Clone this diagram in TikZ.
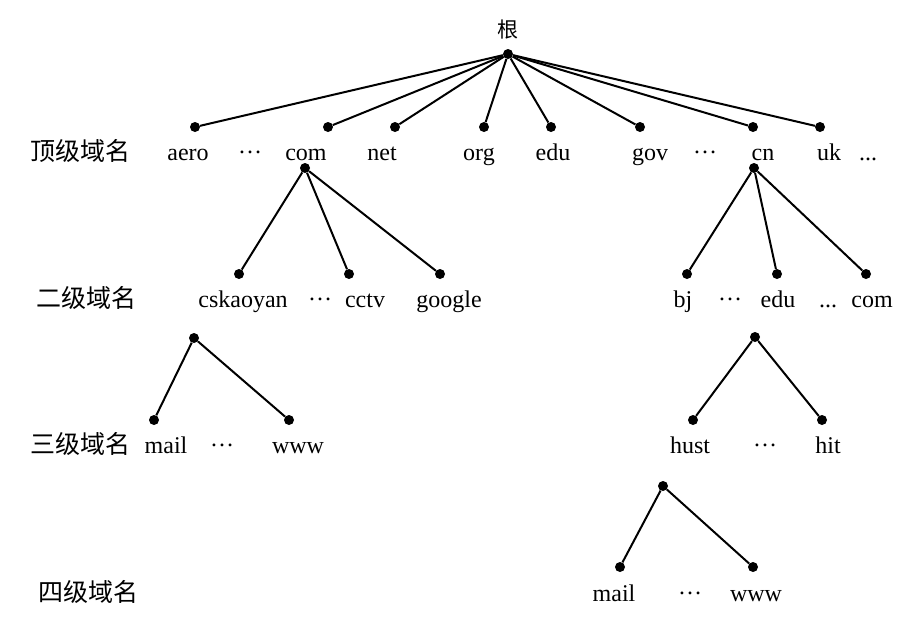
\documentclass[tikz,border=0pt]{standalone}
\usepackage{fontspec}
\setmainfont{Liberation Serif}
\newfontfamily\cjk{Noto Sans CJK SC}
\newcommand{\mydots}{\raisebox{0.27em}{…}}
\begin{document}
\begin{tikzpicture}[x=1pt,y=-1pt,
  dot/.style={circle,fill=black,inner sep=0pt,minimum size=10pt},
  lab/.style={inner sep=0pt,anchor=base,font=\fontsize{24}{28}\selectfont},
  lvl/.style={inner sep=0pt,anchor=base west,font=\cjk\fontsize{25}{28}\selectfont},
  edge/.style={line width=2pt}]
\useasboundingbox (0,0) rectangle (920,622);
% root
\node[inner sep=0pt,font=\cjk\fontsize{21}{24}\selectfont] (rootl) at (508,30) {根};
\node[dot] (root) at (508,54) {};
% top level
\node[dot] (aero) at (195,127) {};
\node[dot] (com) at (328,127) {};
\node[dot] (net) at (395,127) {};
\node[dot] (org) at (484,127) {};
\node[dot] (edu) at (551,127) {};
\node[dot] (gov) at (640,127) {};
\node[dot] (cn) at (753,127) {};
\node[dot] (uk) at (820,127) {};
\foreach \n in {aero,com,net,org,edu,gov,cn,uk} \draw[edge] (root) -- (\n);
\node[lvl] (l1) at (30,160) {顶级域名};
\node[lab] (taero) at (188,160) {aero};
\node[lab] (td1) at (250,160) {\mydots};
\node[lab] (tcom) at (306,160) {com};
\node[lab] (tnet) at (382,160) {net};
\node[lab] (torg) at (479,160) {org};
\node[lab] (tedu) at (553,160) {edu};
\node[lab] (tgov) at (650,160) {gov};
\node[lab] (td2) at (705,160) {\mydots};
\node[lab] (tcn) at (763,160) {cn};
\node[lab] (tuk) at (829,160) {uk};
\node[lab] (td3) at (868,160) {...};
% second level under com
\node[dot] (comc) at (305,168) {};
\node[dot] (csk) at (239,274) {};
\node[dot] (cctv) at (349,274) {};
\node[dot] (goog) at (440,274) {};
\foreach \n in {csk,cctv,goog} \draw[edge] (comc) -- (\n);
\node[lvl] (l2) at (36,307) {二级域名};
\node[lab] (tcsk) at (243,307) {cskaoyan};
\node[lab] (td4) at (320,307) {\mydots};
\node[lab] (tcctv) at (365,307) {cctv};
\node[lab] (tgoog) at (449,307) {google};
% second level under cn
\node[dot] (cnc) at (754,168) {};
\node[dot] (bj) at (687,274) {};
\node[dot] (cedu) at (777,274) {};
\node[dot] (ccom) at (866,274) {};
\foreach \n in {bj,cedu,ccom} \draw[edge] (cnc) -- (\n);
\node[lab] (tbj) at (683,307) {bj};
\node[lab] (td5) at (730,307) {\mydots};
\node[lab] (tcedu) at (778,307) {edu};
\node[lab] (td6) at (828,307) {...};
\node[lab] (tccom) at (872,307) {com};
% third level left
\node[dot] (cskc) at (194,338) {};
\node[dot] (mail1) at (154,420) {};
\node[dot] (www1) at (289,420) {};
\draw[edge] (cskc) -- (mail1);
\draw[edge] (cskc) -- (www1);
\node[lvl] (l3) at (30,453) {三级域名};
\node[lab] (tmail1) at (166,453) {mail};
\node[lab] (td7) at (222,453) {\mydots};
\node[lab] (twww1) at (298,453) {www};
% third level right
\node[dot] (educ) at (755,337) {};
\node[dot] (hust) at (693,420) {};
\node[dot] (hit) at (822,420) {};
\draw[edge] (educ) -- (hust);
\draw[edge] (educ) -- (hit);
\node[lab] (thust) at (690,453) {hust};
\node[lab] (td8) at (765,453) {\mydots};
\node[lab] (thit) at (828,453) {hit};
% fourth level
\node[dot] (hustc) at (663,486) {};
\node[dot] (mail2) at (620,567) {};
\node[dot] (www2) at (753,567) {};
\draw[edge] (hustc) -- (mail2);
\draw[edge] (hustc) -- (www2);
\node[lvl] (l4) at (38,601) {四级域名};
\node[lab] (tmail2) at (614,601) {mail};
\node[lab] (td9) at (690,601) {\mydots};
\node[lab] (twww2) at (756,601) {www};
\end{tikzpicture}
\end{document}
